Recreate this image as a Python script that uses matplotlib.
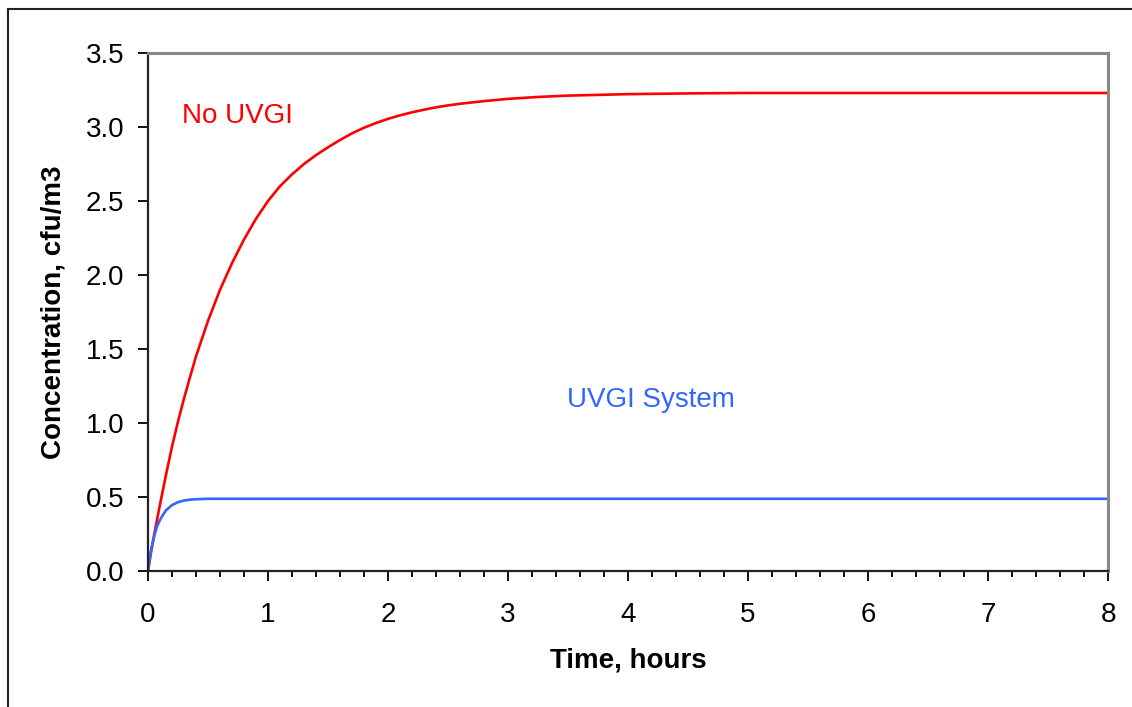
import matplotlib
matplotlib.use("Agg")
import matplotlib.pyplot as plt
from matplotlib.ticker import MultipleLocator, FormatStrFormatter
from matplotlib.lines import Line2D

plt.rcParams['font.family'] = ['Liberation Sans', 'DejaVu Sans']

t_red = [0, 0.025, 0.05, 0.1, 0.15, 0.2, 0.25, 0.3, 0.35, 0.4, 0.5, 0.6, 0.7, 0.8, 0.9, 1.0,
         1.1, 1.2, 1.3, 1.4, 1.5, 1.6, 1.7, 1.8, 1.9, 2.0, 2.1, 2.2, 2.3, 2.4, 2.5, 2.6, 2.8,
         3.0, 3.25, 3.5, 4.0, 4.5, 5.0, 6.0, 7.0, 8.0]
c_red = [0, 0.125, 0.24, 0.45, 0.65, 0.84, 1.01, 1.165, 1.31, 1.45, 1.69, 1.90, 2.08, 2.24, 2.38,
         2.50, 2.60, 2.68, 2.75, 2.81, 2.863, 2.912, 2.957, 2.995, 3.027, 3.055, 3.079, 3.099, 3.117,
         3.133, 3.146, 3.157, 3.175, 3.19, 3.203, 3.212, 3.222, 3.227, 3.23, 3.23, 3.23, 3.23]

t_blue = [0, 0.025, 0.05, 0.075, 0.1, 0.125, 0.15, 0.2, 0.25, 0.3, 0.35, 0.4, 0.5, 1.0, 8.0]
c_blue = [0, 0.14, 0.23, 0.30, 0.345, 0.38, 0.41, 0.445, 0.465, 0.476, 0.482, 0.485, 0.488, 0.488, 0.488]

fig = plt.figure(figsize=(11.32, 7.07), dpi=100)
ax = fig.add_axes([148 / 1132, 1 - 571 / 707, 960 / 1132, 518 / 707])

ax.plot(t_red, c_red, color='#ff0000', lw=1.9)
ax.plot(t_blue, c_blue, color='#3366ff', lw=1.9)

ax.set_xlim(0, 8)
ax.set_ylim(0, 3.5)
ax.xaxis.set_major_locator(MultipleLocator(1))
ax.xaxis.set_minor_locator(MultipleLocator(0.2))
ax.yaxis.set_major_locator(MultipleLocator(0.5))
ax.yaxis.set_major_formatter(FormatStrFormatter('%.1f'))
ax.tick_params(axis='both', which='major', length=7, width=1.3, labelsize=20, direction='out')
ax.tick_params(axis='x', which='minor', length=4.5, width=1.3, direction='out')
ax.tick_params(axis='x', which='major', pad=15)
ax.tick_params(axis='y', which='major', pad=10)

for s in ['left', 'bottom']:
    ax.spines[s].set_color('#222222')
    ax.spines[s].set_linewidth(1.6)
for s in ['top', 'right']:
    ax.spines[s].set_color('#888888')
    ax.spines[s].set_linewidth(2.2)

ax.set_xlabel('Time, hours', fontsize=20, fontweight='bold', labelpad=14)
ax.set_ylabel('Concentration, cfu/m3', fontsize=20, fontweight='bold', labelpad=14)

ax.text(0.283, 3.027, 'No UVGI', color='#ff0000', fontsize=20, va='baseline', ha='left')
ax.text(3.49, 1.108, 'UVGI System', color='#3366ff', fontsize=20, va='baseline', ha='left')

# outer chart border (only top and left visible)
fig.add_artist(Line2D([8 / 1132, 1], [1 - 9 / 707, 1 - 9 / 707], color='#222222', lw=1.5))
fig.add_artist(Line2D([8 / 1132, 8 / 1132], [0, 1 - 9 / 707], color='#222222', lw=1.5))

fig.savefig('out.png', dpi=100)
